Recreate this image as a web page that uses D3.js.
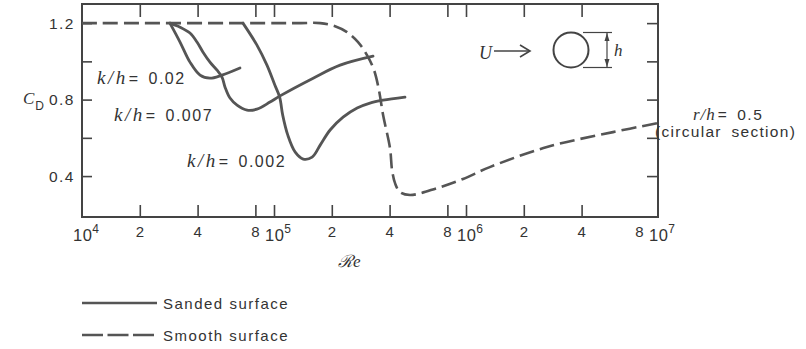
<!DOCTYPE html>
<html>
<head>
<meta charset="utf-8">
<script src="https://cdn.jsdelivr.net/npm/d3@7"></script>
<style>
  html, body { margin: 0; padding: 0; background: #fff; }
  svg { display: block; }
  .sans { font-family: "Liberation Sans", Arial, Helvetica, sans-serif; fill: #333; }
  .serif { font-family: "Liberation Serif", "DejaVu Serif", serif; font-style: italic; fill: #333; }
</style>
</head>
<body>
<svg id="chart" width="806" height="349"></svg>
<script>
// ---------------- data ----------------
// Smooth surface (dashed), r/h = 0.5
const smoothRe = [1e4, 1.3e5, 1.74e5, 2.08e5, 2.40e5, 2.74e5, 3.05e5, 3.32e5, 3.52e5, 3.70e5, 4.02e5, 4.12e5, 4.27e5, 4.53e5, 5.11e5, 7.06e5, 9.65e5, 1.33e6, 2.64e6, 5.83e6, 1e7];
const smoothCd = [1.2, 1.2, 1.2, 1.184, 1.153, 1.101, 1.033, 0.954, 0.850, 0.719, 0.546, 0.431, 0.363, 0.316, 0.301, 0.337, 0.385, 0.447, 0.552, 0.630, 0.677];

// Sanded surface, k/h = 0.02
const sand02Re = [2.87e4, 3.24e4, 3.65e4, 4.12e4, 4.64e4, 5.36e4, 6.65e4];
const sand02Cd = [1.2, 1.101, 0.996, 0.928, 0.912, 0.928, 0.965];

// Sanded surface, k/h = 0.007
const sand007Re = [2.87e4, 3.24e4, 3.65e4, 3.97e4, 4.27e4, 4.64e4, 5.05e4, 5.36e4, 5.56e4, 5.90e4, 6.42e4, 7.24e4, 8.15e4, 9.53e4, 1.07e5, 1.60e5, 2.21e5, 3.28e5];
const sand007Cd = [1.2, 1.179, 1.148, 1.101, 1.048, 0.996, 0.954, 0.918, 0.865, 0.808, 0.771, 0.745, 0.750, 0.787, 0.818, 0.912, 0.980, 1.027];

// Sanded surface, k/h = 0.002
const sand002Re = [6.89e4, 8.15e4, 9.19e4, 1.01e5, 1.07e5, 1.11e5, 1.18e5, 1.29e5, 1.42e5, 1.58e5, 1.74e5, 1.96e5, 2.29e5, 2.71e5, 3.16e5, 3.70e5, 4.81e5];
const sand002Cd = [1.2, 1.085, 0.980, 0.876, 0.813, 0.719, 0.614, 0.525, 0.489, 0.499, 0.562, 0.641, 0.708, 0.756, 0.782, 0.797, 0.813];

// ticks
const xTickValues = [2e4, 4e4, 8e4, 1e5, 2e5, 4e5, 8e5, 1e6, 2e6, 4e6];
const xLabelValues = [1e4, 2e4, 4e4, 8e4, 1e5, 2e5, 4e5, 8e5, 1e6, 2e6, 4e6, 8e6, 1e7];
const xLabelTexts  = ["10^4", "2", "4", "8", "10^5", "2", "4", "8", "10^6", "2", "4", "8", "10^7"];
const yTickValues = [0.4, 0.6, 0.8, 1.0, 1.2];
const yLabelValues = [0.4, 0.8, 1.2];
const yLabelTexts = ["0.4", "0.8", "1.2"];

const legendLabels = ["Sanded surface", "Smooth surface"];
const curveLabels = ["0.02", "0.007", "0.002"];

// ---------------- scales ----------------
const svg = d3.select("#chart");
const L = 82, R = 658, T = 4, B = 217;
const x = d3.scaleLog().domain([1e4, 1e7]).range([L, R]);
const y = d3.scaleLinear().domain([0.186, 1.3]).range([B, T]);

const ink = "#444";
const curveInk = "#555";

// ---------------- axes ----------------
function styleAxis(g) {
  g.select(".domain").remove();
  g.selectAll(".tick line").attr("stroke", ink).attr("stroke-width", 1.6);
  g.selectAll(".tick text").remove();
}
svg.append("g").attr("transform", `translate(0,${B})`)
  .call(d3.axisBottom(x).tickValues(xTickValues).tickSizeInner(-12).tickSizeOuter(0).tickFormat(""))
  .call(styleAxis);
svg.append("g").attr("transform", `translate(0,${T})`)
  .call(d3.axisTop(x).tickValues(xTickValues).tickSizeInner(-13).tickSizeOuter(0).tickFormat(""))
  .call(styleAxis);
svg.append("g").attr("transform", `translate(${L},0)`)
  .call(d3.axisLeft(y).tickValues(yTickValues).tickSizeInner(-10).tickSizeOuter(0).tickFormat(""))
  .call(styleAxis);
svg.append("g").attr("transform", `translate(${R},0)`)
  .call(d3.axisRight(y).tickValues(yTickValues).tickSizeInner(-11).tickSizeOuter(0).tickFormat(""))
  .call(styleAxis);

// frame
svg.append("rect").attr("x", L).attr("y", T).attr("width", R - L).attr("height", B - T)
  .attr("fill", "none").attr("stroke", ink).attr("stroke-width", 2);

// x tick labels
xLabelValues.forEach((v, i) => {
  const t = xLabelTexts[i];
  if (t.includes("^")) {
    const [base, sup] = t.split("^");
    const g = svg.append("text").attr("class", "sans").attr("font-size", 16.5)
      .attr("x", x(v) - 9).attr("y", 241).attr("letter-spacing", 0.5);
    g.append("tspan").text(base);
    g.append("tspan").attr("font-size", 12).attr("dy", -8).text(sup);
  } else {
    svg.append("text").attr("class", "sans").attr("font-size", 15)
      .attr("x", x(v)).attr("y", 237).attr("text-anchor", "middle").text(t);
  }
});

// y tick labels
yLabelValues.forEach((v, i) => {
  svg.append("text").attr("class", "sans").attr("font-size", 15.5)
    .attr("letter-spacing", 1.5)
    .attr("x", 75).attr("y", y(v) + 5.5).attr("text-anchor", "end").text(yLabelTexts[i]);
});

// axis titles
const cd = svg.append("text").attr("x", 23).attr("y", 104);
cd.append("tspan").attr("class", "serif").attr("font-size", 17).text("C");
cd.append("tspan").attr("class", "sans").attr("font-size", 12).attr("dx", 1).attr("dy", 6).text("D");

svg.append("text").attr("class", "serif").attr("font-size", 17)
  .attr("x", 338).attr("y", 267).text("\u211Be");

// ---------------- curves ----------------
const line = d3.line().x(d => x(d[0])).y(d => y(d[1])).curve(d3.curveCatmullRom.alpha(0.5));
const zip = (a, b) => a.map((v, i) => [v, b[i]]);

svg.append("path").datum(zip(smoothRe, smoothCd)).attr("d", line)
  .attr("fill", "none").attr("stroke", curveInk).attr("stroke-width", 2.6)
  .attr("stroke-dasharray", "15,6");

[[sand02Re, sand02Cd], [sand007Re, sand007Cd], [sand002Re, sand002Cd]].forEach(([re, cdv]) => {
  svg.append("path").datum(zip(re, cdv)).attr("d", line)
    .attr("fill", "none").attr("stroke", curveInk).attr("stroke-width", 2.8)
    .attr("stroke-linecap", "round").attr("stroke-linejoin", "round");
});

// curve labels k/h = ...
const labelPos = [[97, 84], [114, 121], [187, 167]];
curveLabels.forEach((t, i) => {
  const g = svg.append("text").attr("x", labelPos[i][0]).attr("y", labelPos[i][1]);
  g.append("tspan").attr("class", "serif").attr("font-size", 19)
    .attr("letter-spacing", 2.5).text("k/h");
  g.append("tspan").attr("class", "sans").attr("font-size", 16).attr("letter-spacing", 1.5)
    .attr("dx", 1).text("= ");
  g.append("tspan").attr("class", "sans").attr("font-size", 16).attr("letter-spacing", 1.5)
    .attr("dx", 3).text(t);
});

// r/h annotation
const rh = svg.append("text").attr("x", 693).attr("y", 120);
rh.append("tspan").attr("class", "serif").attr("font-size", 17).attr("letter-spacing", 1).text("r/h");
rh.append("tspan").attr("class", "sans").attr("font-size", 15.5).attr("letter-spacing", 1.5).attr("dx", 2).text("= ");
rh.append("tspan").attr("class", "sans").attr("font-size", 15.5).attr("letter-spacing", 1.5).attr("dx", 3).text("0.5");
svg.append("text").attr("class", "sans").attr("font-size", 15.5).attr("letter-spacing", 1.3)
  .attr("word-spacing", 4).attr("x", 655).attr("y", 137).text("(circular section)");

// ---------------- sketch: U -> circle with h ----------------
const sk = svg.append("g").attr("stroke", ink).attr("fill", "none").attr("stroke-width", 1.6);
svg.append("text").attr("class", "serif").attr("font-size", 18).attr("x", 479).attr("y", 59).text("U");
sk.append("line").attr("x1", 494).attr("y1", 51).attr("x2", 530).attr("y2", 51);
sk.append("path").attr("d", "M520,45 L530,51 L520,57");
sk.append("circle").attr("cx", 571).attr("cy", 50).attr("r", 17.5).attr("stroke-width", 2);
sk.append("line").attr("x1", 583).attr("y1", 32.5).attr("x2", 612).attr("y2", 32.5).attr("stroke-width", 1.2);
sk.append("line").attr("x1", 583).attr("y1", 67.5).attr("x2", 612).attr("y2", 67.5).attr("stroke-width", 1.2);
sk.append("line").attr("x1", 607).attr("y1", 33).attr("x2", 607).attr("y2", 67).attr("stroke-width", 1.2);
svg.append("path").attr("d", "M607,33 L604.5,41 L609.5,41 Z M607,67 L604.5,59 L609.5,59 Z").attr("fill", ink);
svg.append("text").attr("class", "serif").attr("font-size", 17).attr("x", 614).attr("y", 56).text("h");

// ---------------- legend ----------------
const legY = [303, 335];
const lg = svg.append("g");
legendLabels.forEach((t, i) => {
  lg.append("line").attr("x1", 82).attr("x2", 157).attr("y1", legY[i]).attr("y2", legY[i])
    .attr("stroke", curveInk).attr("stroke-width", 2.6)
    .attr("stroke-dasharray", i === 1 ? "21,4.5" : null);
  lg.append("text").attr("class", "sans").attr("font-size", 15).attr("letter-spacing", 1.5)
    .attr("x", 163).attr("y", legY[i] + 5.5).text(t);
});
</script>
</body>
</html>
